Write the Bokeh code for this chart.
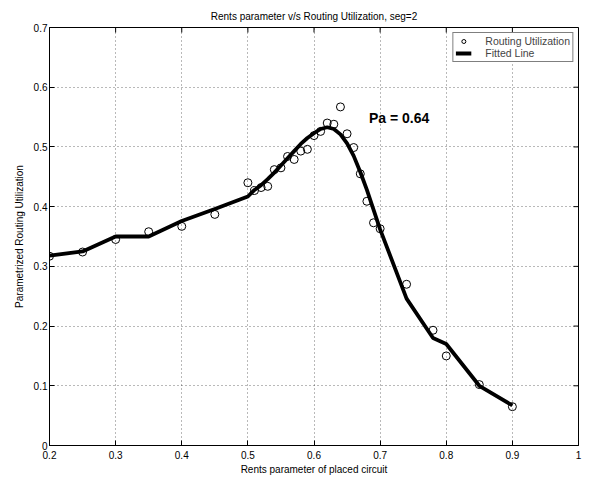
import math
from bokeh.plotting import figure
from bokeh.models import (Range1d, FixedTicker, CustomJSTickFormatter,
                          Legend, LegendItem, Label)
from bokeh.embed import file_html
from bokeh.resources import INLINE

# ---- data ----
rent = [0.20, 0.25, 0.30, 0.35, 0.40, 0.45, 0.50, 0.51, 0.52, 0.53, 0.54, 0.55,
        0.56, 0.57, 0.58, 0.59, 0.60, 0.61, 0.62, 0.63, 0.64, 0.65, 0.66, 0.67,
        0.68, 0.69, 0.70, 0.74, 0.78, 0.80, 0.85, 0.90]
util = [0.317, 0.324, 0.345, 0.358, 0.367, 0.387, 0.440, 0.427, 0.432, 0.434, 0.462, 0.465,
        0.484, 0.479, 0.493, 0.496, 0.519, 0.526, 0.540, 0.538, 0.567, 0.522, 0.499, 0.455,
        0.409, 0.373, 0.363, 0.270, 0.193, 0.150, 0.102, 0.065]
fit_x = rent
fit_y = [0.318, 0.325, 0.350, 0.350, 0.376, 0.396, 0.417, 0.428, 0.436, 0.446, 0.457, 0.469,
         0.481, 0.493, 0.505, 0.515, 0.523, 0.530, 0.533, 0.530, 0.521, 0.506, 0.485, 0.458,
         0.428, 0.395, 0.362, 0.246, 0.180, 0.170, 0.100, 0.067]
x_ticks = [0.2, 0.3, 0.4, 0.5, 0.6, 0.7, 0.8, 0.9, 1.0]
y_ticks = [0.0, 0.1, 0.2, 0.3, 0.4, 0.5, 0.6, 0.7]
x_min, x_max = 0.2, 1.0
y_min, y_max = 0.0, 0.7
title_text = "Rents parameter v/s Routing Utilization, seg=2"
x_label = "Rents parameter of placed circuit"
y_label = "Parametrized Routing Utilization"
note_text = "Pa = 0.64"
note_pos = (0.683, 0.549)

FONT = "Liberation Sans"

p = figure(width=589, height=477, output_backend="svg", toolbar_location=None,
           x_range=Range1d(x_min, x_max), y_range=Range1d(y_min, y_max),
           min_border_left=49, min_border_right=11, min_border_top=27, min_border_bottom=32)

p.title.text = title_text
p.title.text_font = FONT
p.title.text_font_size = "10px"
p.title.text_font_style = "normal"
p.title.align = "center"
p.title.vertical_align = "top"
p.title.standoff = 7
p.title.text_color = "black"

p.outline_line_color = "black"
p.outline_line_width = 1
p.outline_line_alpha = 1
p.background_fill_color = "white"
p.border_fill_color = "white"

fmt = CustomJSTickFormatter(code="return (Math.round(tick*10)/10).toString();")

def style_axis(ax, ticks, label):
    ax.ticker = FixedTicker(ticks=ticks)
    ax.formatter = fmt
    ax.major_tick_in = 5
    ax.major_tick_out = 0
    ax.minor_tick_in = 0
    ax.minor_tick_out = 0
    ax.major_tick_line_color = "black"
    ax.axis_line_color = "black"
    ax.major_label_text_font = FONT
    ax.major_label_text_font_size = "10px"
    ax.major_label_text_color = "black"
    ax.axis_label = label
    ax.axis_label_text_font = FONT
    ax.axis_label_text_font_size = "10px"
    ax.axis_label_text_font_style = "normal"
    ax.axis_label_text_color = "black"

style_axis(p.xaxis[0], x_ticks, x_label)
p.xaxis[0].major_label_standoff = 5
p.xaxis[0].axis_label_standoff = 2
style_axis(p.yaxis[0], y_ticks, y_label)
p.yaxis[0].major_label_standoff = 2
p.yaxis[0].axis_label_standoff = 6

# inward tick marks on the top and right edges of the box
p.ray(x=x_ticks, y=[y_max] * len(x_ticks), length=5, length_units="screen",
      angle=-math.pi / 2, line_color="black", line_width=1)
p.ray(x=[x_max] * len(y_ticks), y=y_ticks, length=5, length_units="screen",
      angle=math.pi, line_color="black", line_width=1)

for g, t in ((p.xgrid[0], x_ticks), (p.ygrid[0], y_ticks)):
    g.ticker = FixedTicker(ticks=t)
    g.grid_line_color = "black"
    g.grid_line_alpha = 0.55
    g.grid_line_dash = "1 3"
    g.grid_line_width = 1

line_r = p.line(fit_x, fit_y, line_color="black", line_width=3.8)
pts_r = p.scatter(rent, util, marker="circle", size=8, fill_color=None,
                  line_color="black", line_width=1)

note = Label(x=note_pos[0], y=note_pos[1], text=note_text, text_font=FONT,
             text_font_size="14px", text_font_style="bold", text_baseline="middle",
             text_align="left", text_color="black")
p.add_layout(note)

legend = Legend(items=[LegendItem(label="Routing Utilization", renderers=[pts_r]),
                       LegendItem(label="Fitted Line", renderers=[line_r])],
                location="top_right", margin=5, padding=2, spacing=0,
                label_text_font=FONT, label_text_font_size="10.5px",
                label_height=10, glyph_height=10, glyph_width=16, label_standoff=14,
                border_line_color="black", border_line_width=1,
                background_fill_color="white", background_fill_alpha=1)
p.add_layout(legend)

open("out.html", "w").write(file_html(p, INLINE))
